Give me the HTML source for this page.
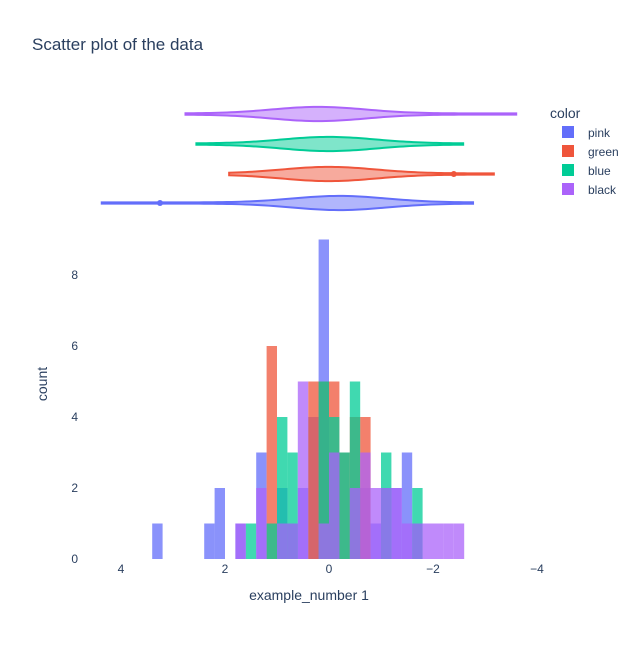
<!DOCTYPE html>
<html><head><meta charset="utf-8"><style>
body{margin:0;background:#fff;font-family:"Liberation Sans",sans-serif}
svg text{fill:#2a3f5f;font-family:"Liberation Sans",sans-serif}
</style></head><body>
<svg id="c" width="640" height="640">
<text x="32" y="50" font-size="17">Scatter plot of the data</text>
<g id="violins"></g>
<g id="bars"></g>
<g id="axes"></g>
<text x="309" y="600" font-size="14" text-anchor="middle">example_number 1</text>
<text transform="translate(47,384) rotate(-90)" font-size="14" text-anchor="middle">count</text>
<g>
<text x="550" y="118" font-size="14">color</text>
<g><rect x="562" y="126" width="12" height="12" fill="#636efa"/><text x="588" y="137" font-size="12">pink</text></g>
<g><rect x="562" y="145" width="12" height="12" fill="#EF553B"/><text x="588" y="156" font-size="12">green</text></g>
<g><rect x="562" y="164" width="12" height="12" fill="#00cc96"/><text x="588" y="175" font-size="12">blue</text></g>
<g><rect x="562" y="183" width="12" height="12" fill="#ab63fa"/><text x="588" y="194" font-size="12">black</text></g>
</g>
</svg>
<script>
// bins: start of each bin in data units (width 0.2)
const binStarts=[3.2,2.2,2.0,1.6,1.4,1.2,1.0,0.8,0.6,0.4,0.2,0.0,-0.2,-0.4,-0.6,-0.8,-1.0,-1.2,-1.4,-1.6,-1.8,-2.0,-2.2,-2.4,-2.6];
const seriesNames=["pink","green","blue","black"];
const seriesColors=["#636efa","#EF553B","#00cc96","#ab63fa"];
const pinkCounts =[1,1,2,1,0,3,0,2,1,2,4,9,3,0,2,2,1,2,2,3,1,0,0,0,0];
const greenCounts=[0,0,0,0,0,0,6,0,0,0,5,5,5,3,4,4,0,0,0,0,0,0,0,0,0];
const blueCounts =[0,0,0,0,1,0,1,4,3,0,0,5,4,3,5,0,0,3,0,0,2,0,0,0,0];
const blackCounts=[0,0,0,1,0,2,0,1,1,5,0,1,3,0,2,3,2,2,2,1,1,1,1,1,1];
const allCounts=[pinkCounts,greenCounts,blueCounts,blackCounts];
const xTicks=[4,2,0,-2,-4];
const yTicks=[0,2,4,6,8];
// violins: min, max, peak, spread, outlier
const vMin=[-2.77,-3.17,-2.58,-3.6];
const vMax=[4.37,1.92,2.55,2.76];
const vPeak=[-0.2,0.0,0.0,0.2];
const vOutlier=[3.25,-2.4,null,null];

const NS="http://www.w3.org/2000/svg";
const X=v=>329-52*v, Y=v=>559-35.5*v;
function mk(tag,attrs,parent){const e=document.createElementNS(NS,tag);for(const k in attrs)e.setAttribute(k,attrs[k]);parent.appendChild(e);return e;}
const bars=document.getElementById('bars');
allCounts.forEach((cs,s)=>{
  cs.forEach((c,i)=>{
    if(!c)return;
    const r=mk('rect',{x:X(binStarts[i]+0.2),y:Y(c),width:X(binStarts[i])-X(binStarts[i]+0.2),height:Y(0)-Y(c),fill:seriesColors[s],'fill-opacity':0.75},bars);
    
    
  });
});
const ax=document.getElementById('axes');
xTicks.forEach(t=>{const e=mk('text',{x:X(t),y:573,'font-size':12,'text-anchor':'middle'},ax);e.textContent=t<0?'\u2212'+(-t):t;

});
yTicks.forEach(t=>{const e=mk('text',{x:78,y:Y(t)+4,'font-size':12,'text-anchor':'end'},ax);e.textContent=t;

});
const vg=document.getElementById('violins');
const rowsY=[203,174,144,114];
seriesNames.forEach((n,s)=>{
  const cy=rowsY[s],top=[],bot=[];
  for(let k=0;k<=80;k++){
    const v=vMin[s]+(vMax[s]-vMin[s])*k/80;
    const d=v-vPeak[s];
    const h=0.6+6.5*Math.exp(-d*d/(2*0.9*0.9));
    top.push(X(v)+','+(cy-h));bot.unshift(X(v)+','+(cy+h));
  }
  const p=mk('polygon',{points:top.concat(bot).join(' '),fill:seriesColors[s],'fill-opacity':0.5,stroke:seriesColors[s],'stroke-width':2},vg);
  
  
  if(vOutlier[s]!==null){const c=mk('circle',{cx:X(vOutlier[s]),cy:cy,r:3,fill:seriesColors[s]},vg);
  
  }
});
</script>
</body></html>
